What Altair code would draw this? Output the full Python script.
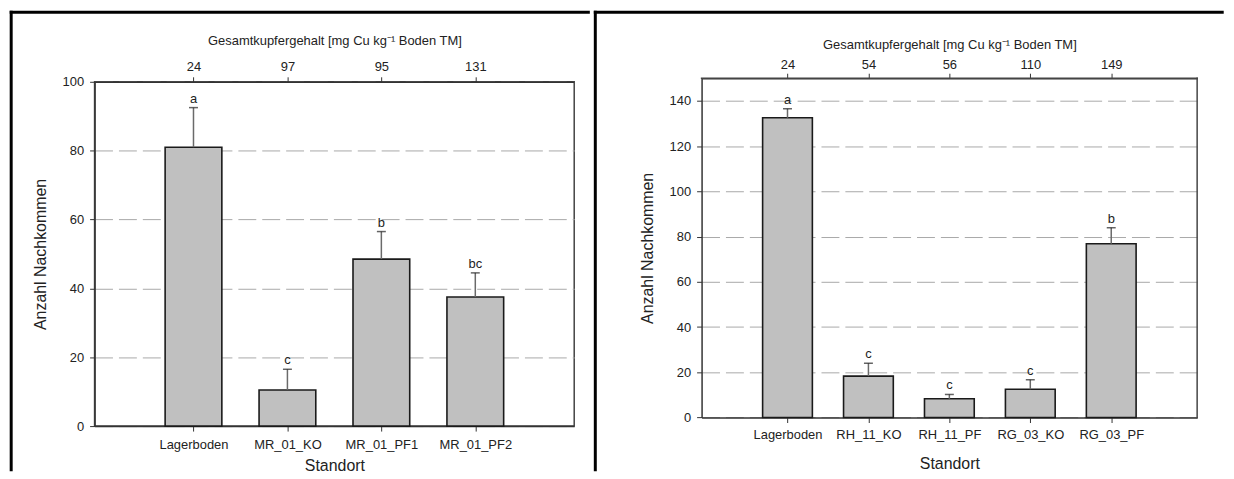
import altair as alt
import pandas as pd

# ---------------- data ----------------
left_sites = ["Lagerboden", "MR_01_KO", "MR_01_PF1", "MR_01_PF2"]
left_cu = ["24", "97", "95", "131"]
left_mean = [81.0, 10.5, 48.5, 37.5]
left_err_top = [92.5, 16.5, 56.5, 44.5]
left_letters = ["a", "c", "b", "bc"]

right_sites = ["Lagerboden", "RH_11_KO", "RH_11_PF", "RG_03_KO", "RG_03_PF"]
right_cu = ["24", "54", "56", "110", "149"]
right_mean = [132.5, 18.3, 8.3, 12.5, 76.8]
right_err_top = [136.5, 24.0, 10.2, 16.7, 83.9]
right_letters = ["a", "c", "c", "c", "b"]

FONT = "Liberation Sans"
TOP_TITLE = "Gesamtkupfergehalt [mg Cu kg\u207b\u00b9 Boden TM]"


def line(x1, x2, y1, y2, color="black", width=3, cap="square"):
    return alt.Chart(alt.Data(values=[{}])).mark_rule(
        color=color, strokeWidth=width, strokeCap=cap
    ).encode(x=alt.value(x1), x2=alt.value(x2), y=alt.value(y1), y2=alt.value(y2))


def panel(sites, cu, mean, top, letters, ymax, ystep, width, height, bar_size,
          extra, top_lpad, top_tpad, bot_lpad, bot_tpad, yrange=None, top_offset=0):
    n = len(sites)
    df = pd.DataFrame({
        "pos": list(range(1, n + 1)),
        "site": sites,
        "cu": cu,
        "mean": mean,
        "top": top,
        "letter": letters,
    })
    xs = alt.Scale(domain=[0, n + 1], nice=False, zero=False)
    if yrange is None:
        ys = alt.Scale(domain=[0, ymax], nice=False)
    else:
        ys = alt.Scale(domain=[0, ymax], nice=False, range=yrange)
    pos_vals = list(range(1, n + 1))
    bot_expr = "[" + ",".join(["''"] + ["'%s'" % s for s in sites]) + "][datum.value]"
    top_expr = "[" + ",".join(["''"] + ["'%s'" % s for s in cu]) + "][datum.value]"
    base = alt.Chart(df)

    bars = base.mark_bar(size=bar_size, color="#c0c0c0", stroke="#1a1a1a", strokeWidth=1.6).encode(
        x=alt.X("pos:Q", scale=xs, axis=alt.Axis(
            orient="bottom", values=pos_vals, labelExpr=bot_expr, title="Standort",
            grid=False, labelPadding=bot_lpad, titlePadding=bot_tpad, titleFontSize=16)),
        y=alt.Y("mean:Q", scale=ys, title="Anzahl Nachkommen", axis=alt.Axis(
            values=list(range(0, ymax + 1, ystep)), grid=True, gridDash=[18, 6],
            gridColor="#a8a8a8", gridWidth=1, labelPadding=6, titlePadding=14,
            titleFontSize=16)),
    )
    err = base.mark_rule(color="#6a6a6a", strokeWidth=1.5).encode(
        x=alt.X("pos:Q", scale=xs, axis=alt.Axis(
            orient="top", values=pos_vals, labelExpr=top_expr, title=TOP_TITLE,
            grid=False, labelPadding=top_lpad, titlePadding=top_tpad, titleFontSize=13,
            offset=top_offset)),
        y=alt.Y("mean:Q", scale=ys, title="Anzahl Nachkommen"),
        y2="top:Q",
    )
    cap = base.mark_tick(orient="horizontal", size=9, thickness=1.5, color="#222").encode(
        x=alt.X("pos:Q", scale=xs, axis=None),
        y=alt.Y("top:Q", scale=ys, title="Anzahl Nachkommen"),
    )
    txt = base.mark_text(baseline="bottom", dy=-2, fontSize=13, font=FONT, color="#222").encode(
        x=alt.X("pos:Q", scale=xs, axis=None),
        y=alt.Y("top:Q", scale=ys, title="Anzahl Nachkommen"),
        text="letter:N",
    )
    layers = [bars, err, cap, txt] + extra
    return alt.layer(*layers).resolve_axis(x="independent").properties(width=width, height=height)


# left panel: plot origin at page (93.3, 79.3)
BOT = 390.0
left = panel(left_sites, left_cu, left_mean, left_err_top, left_letters,
             100, 20, 482, 346, 57,
             extra=[line(-83.8, 496.2, -69.8, -69.8),
                    line(-83.8, -83.8, -69.8, BOT)],
             top_lpad=3, top_tpad=13, bot_lpad=8, bot_tpad=6)

# right panel: plot origin at page (699.3, 79.3); real plot top is 3.6 px higher
RT = -3.6
RB = 337.4
right = panel(right_sites, right_cu, right_mean, right_err_top, right_letters,
              150, 20, 498, RB, 50,
              extra=[line(-106.8, -106.8, -69.8, BOT),
                     line(-106.8, 523.2, -69.8, -69.8),
                     line(0, 498, RT, RT, color="#444", width=1.5),
                     line(498, 498, RT, RB, color="#444", width=1.5)],
              top_lpad=2, top_tpad=7, bot_lpad=6, bot_tpad=14,
              yrange=[RB, RT], top_offset=-RT).properties(
    view=alt.ViewBackground(stroke="transparent")
)

chart = alt.hconcat(left, right, spacing=0).properties(
    padding={"left": 0, "top": 0, "right": 0, "bottom": 0}
).configure_view(
    stroke="#444", strokeWidth=1.5
).configure_axis(
    labelFont=FONT, titleFont=FONT, labelFontSize=13, labelColor="#222",
    titleColor="#222", titleFontWeight="normal", domainColor="#333",
    domainWidth=1.5, tickColor="#333", tickSize=5, tickWidth=1
)

chart.save("out.html", embed_options={"renderer": "svg", "actions": False})
